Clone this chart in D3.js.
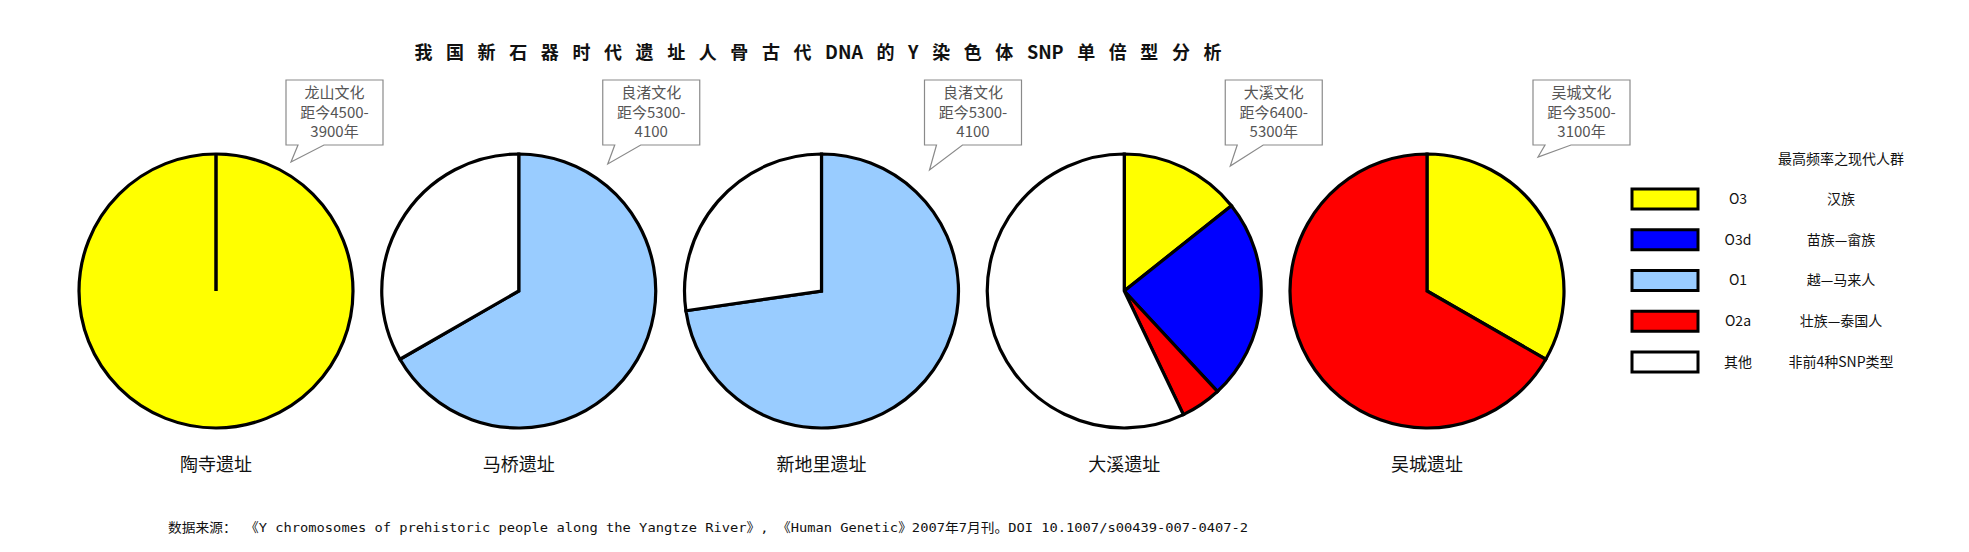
<!DOCTYPE html>
<html>
<head>
<meta charset="utf-8">
<script src="https://cdn.jsdelivr.net/npm/d3@7"></script>
<style>
  body { margin: 0; background: #fff; }
  text { font-family: "Noto Sans CJK SC", "DejaVu Sans", sans-serif; }
</style>
</head>
<body>
<svg id="chart" width="1969" height="552"></svg>
<script>
// data
let sites = ["陶寺遗址","马桥遗址","新地里遗址","大溪遗址","吴城遗址"];
let cultures = ["龙山文化","良渚文化","良渚文化","大溪文化","吴城文化"];
let dates = [["距今4500-","3900年"],["距今5300-","4100"],["距今5300-","4100"],["距今6400-","5300年"],["距今3500-","3100年"]];
let groups = ["O3","O3d","O1","O2a","其他"];
let peoples = ["汉族","苗族—畲族","越—马来人","壮族—泰国人","非前4种SNP类型"];
let colores = ["#ffff00","#0000ff","#99ccff","#ff0000","#ffffff"];
// share (%) of each haplogroup per site, in groups order
let shares = [
  [100, 0, 0, 0, 0],
  [0, 0, 66.7, 0, 33.3],
  [0, 0, 72.7, 0, 27.3],
  [14.3, 23.8, 0, 4.8, 57.1],
  [33.3, 0, 0, 66.7, 0]
];
let title = "我 国 新 石 器 时 代 遗 址 人 骨 古 代 DNA 的 Y 染 色 体 SNP 单 倍 型 分 析";
let source = "数据来源： 《Y chromosomes of prehistoric people along the Yangtze River》, 《Human Genetic》2007年7月刊。DOI 10.1007/s00439-007-0407-2";

// layout
let svg = d3.select("#chart");
let radio = 137;
let cy = 291;
let calloutDx = [70, 84, 103, 101, 106];
let calloutTipY = [162, 164, 170, 166, 157];

let scx = d3.scalePoint(sites, [216, 1427]);
let color = d3.scaleOrdinal(groups, colores);
let pie = d3.pie().sort(null).value(d => d.v);
let arc = d3.arc().innerRadius(0).outerRadius(radio);

svg.append("text")
  .attr("x", 818)
  .attr("y", 53)
  .attr("dy", "0.35em")
  .attr("text-anchor", "middle")
  .attr("font-size", 18)
  .attr("font-weight", 600)
  .attr("fill", "#111")
  .style("word-spacing", "9.5px")
  .text(title);

let pies = svg.selectAll(".pie")
  .data(sites)
  .join("g")
  .attr("class", "pie")
  .attr("transform", d => `translate(${scx(d)},${cy})`);

pies.each(function(site, i) {
  let g = d3.select(this);
  let datos = groups.map((k, j) => ({k: k, v: shares[i][j]})).filter(d => d.v > 0);
  g.selectAll("path")
    .data(pie(datos))
    .join("path")
    .attr("d", arc)
    .attr("fill", d => color(d.data.k))
    .attr("stroke", "black")
    .attr("stroke-width", 3.2)
    .attr("stroke-linejoin", "miter");
  if (datos.length === 1) {
    g.append("line")
      .attr("x1", 0).attr("y1", 0)
      .attr("x2", 0).attr("y2", -radio)
      .attr("stroke", "black")
      .attr("stroke-width", 3.5);
  }
});

pies.append("text")
  .attr("x", 0)
  .attr("y", 465 - cy)
  .attr("dy", "0.35em")
  .attr("text-anchor", "middle")
  .attr("font-size", 18)
  .attr("fill", "#111")
  .text(d => d);

// callouts
let boxW = 97, boxH = 65, boxTop = 80;
let callouts = svg.selectAll(".callout")
  .data(sites)
  .join("g")
  .attr("class", "callout")
  .attr("transform", (d, i) => `translate(${scx(d) + calloutDx[i]},${boxTop})`);

callouts.append("path")
  .attr("d", (d, i) => {
    let tipY = calloutTipY[i] - boxTop;
    return `M0,0 H${boxW} V${boxH} H38 L5,${tipY} L12,${boxH} H0 Z`;
  })
  .attr("fill", "white")
  .attr("stroke", "#8a8a8a")
  .attr("stroke-width", 1.2);

callouts.each(function(site, i) {
  let lines = [cultures[i]].concat(dates[i]);
  d3.select(this).selectAll("text")
    .data(lines)
    .join("text")
    .attr("x", boxW / 2)
    .attr("y", (d, j) => 13 + j * 19.5)
    .attr("dy", "0.35em")
    .attr("text-anchor", "middle")
    .attr("font-size", 15)
    .attr("fill", "#555")
    .text(d => d);
});

// legend
let legend = svg.append("g");
let ley = d3.scalePoint(groups, [199, 362]);
legend.append("text")
  .attr("x", 1841)
  .attr("y", 159)
  .attr("dy", "0.35em")
  .attr("text-anchor", "middle")
  .attr("font-size", 14)
  .attr("fill", "#111")
  .text("最高频率之现代人群");

let items = legend.selectAll(".item")
  .data(groups)
  .join("g")
  .attr("class", "item")
  .attr("transform", d => `translate(0,${ley(d)})`);

items.append("rect")
  .attr("x", 1632)
  .attr("y", -10)
  .attr("width", 66)
  .attr("height", 20)
  .attr("fill", d => color(d))
  .attr("stroke", "black")
  .attr("stroke-width", 3);

items.append("text")
  .attr("x", 1738)
  .attr("dy", "0.35em")
  .attr("text-anchor", "middle")
  .attr("font-size", 14)
  .attr("fill", "#111")
  .text(d => d);

items.append("text")
  .attr("x", 1841)
  .attr("dy", "0.35em")
  .attr("text-anchor", "middle")
  .attr("font-size", 14)
  .attr("fill", "#111")
  .text((d, i) => peoples[i]);

svg.append("text")
  .attr("x", 168)
  .attr("y", 527)
  .attr("dy", "0.35em")
  .attr("font-size", 13)
  .attr("fill", "#111")
  .attr("textLength", 1080)
  .attr("lengthAdjust", "spacingAndGlyphs")
  .style("font-family", "'DejaVu Sans Mono', 'Noto Sans CJK SC', monospace")
  .text(source);
</script>
</body>
</html>
